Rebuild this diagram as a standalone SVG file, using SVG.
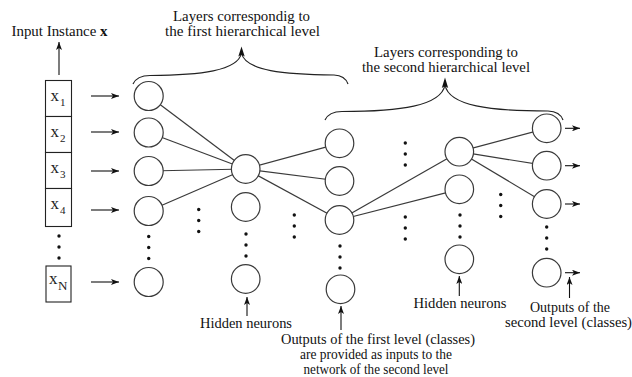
<svg xmlns="http://www.w3.org/2000/svg" xmlns:xlink="http://www.w3.org/1999/xlink" width="632" height="377" viewBox="0 0 632 377">
<style>
.n{fill:#fff;stroke:#3a3a3a;stroke-width:1.2}
.e{stroke:#3a3a3a;stroke-width:1.2;fill:none}
.a{stroke:#111;stroke-width:1.1;fill:none;marker-end:url(#ah)}
.br{stroke:#222;stroke-width:1.2;fill:none}
.d{fill:#111}
.t{font-family:"Liberation Serif","Times New Roman",serif;font-size:14px;fill:#111;text-anchor:middle}
.bx{fill:#fff;stroke:#222;stroke-width:1.1}
.xv{font-family:"Liberation Serif","Times New Roman",serif;font-size:17px;fill:#222}
.sb{font-size:11px}
</style>
<defs>
<marker id="ah" viewBox="0 0 8 6" refX="8" refY="3" markerWidth="8" markerHeight="6" markerUnits="userSpaceOnUse" orient="auto">
<path d="M0,0 L8,3 L0,6 L2,3 z" fill="#111"/>
</marker>
<g id="d3"><circle cx="0" cy="0" r="1.7"/><circle cx="0" cy="11" r="1.7"/><circle cx="0" cy="22" r="1.7"/></g>
</defs>
<rect width="632" height="377" fill="#fff"/>

<g id="connectors">
<g class="e">
<line x1="148.7" y1="96" x2="245.7" y2="169"/>
<line x1="148.7" y1="132.5" x2="245.7" y2="169"/>
<line x1="148.7" y1="171" x2="245.7" y2="169"/>
<line x1="148.7" y1="211" x2="245.7" y2="169"/>
<line x1="245.7" y1="169" x2="339.5" y2="143.3"/>
<line x1="245.7" y1="169" x2="339.5" y2="181"/>
<line x1="245.7" y1="169" x2="339.5" y2="220"/>
<line x1="339.5" y1="220" x2="459.3" y2="151.7"/>
<line x1="339.5" y1="220" x2="459.3" y2="189.3"/>
<line x1="459.3" y1="151.7" x2="546.7" y2="128.3"/>
<line x1="459.3" y1="151.7" x2="546.7" y2="165.7"/>
<line x1="459.3" y1="151.7" x2="546.7" y2="204"/>
</g>
<g class="a">
<line x1="91" y1="96" x2="119" y2="96"/>
<line x1="91" y1="132" x2="119" y2="132"/>
<line x1="91" y1="171" x2="119" y2="171"/>
<line x1="91" y1="210" x2="119" y2="210"/>
<line x1="91" y1="282" x2="119" y2="282"/>
<line x1="565" y1="128.3" x2="580" y2="128.3"/>
<line x1="565" y1="165.7" x2="580" y2="165.7"/>
<line x1="565" y1="204" x2="580" y2="204"/>
<line x1="565" y1="272.7" x2="580" y2="272.7"/>
<line x1="59" y1="75" x2="59" y2="42"/>
<line x1="247" y1="316" x2="247" y2="297"/>
<line x1="341" y1="330" x2="341" y2="306"/>
<line x1="459.3" y1="296" x2="459.3" y2="276"/>
<line x1="569.5" y1="298" x2="569.5" y2="277"/>
</g>
</g>

<g id="braces">
<path class="br" d="M133,84 Q137,75.5 150,75.5 C200,75 238,71 241.5,53 M241.5,53 C245,71 285,74.5 334,75 Q345,75.5 348,84"/>
<path d="M241.5,46.5 L238.3,56.5 L241.5,54.5 L244.7,56.5 z" fill="#111"/>
<path class="br" d="M325,120 Q329,111.5 342,111.5 C400,111.5 441,106 445,85 M445,85 C449,106 490,111 548,111 Q560,111.5 563,120"/>
<path d="M445,77.5 L441.8,88 L445,86 L448.2,88 z" fill="#111"/>
</g>

<g id="input">
<rect class="bx" x="45.5" y="80.5" width="26" height="36"/>
<rect class="bx" x="45.5" y="116.5" width="26" height="36"/>
<rect class="bx" x="45.5" y="152.5" width="26" height="36"/>
<rect class="bx" x="45.5" y="188.5" width="26" height="38"/>
<rect class="bx" x="46" y="266" width="25" height="36"/>
<text class="xv" x="50.5" y="100.5">x<tspan class="sb" x="60" y="105.5">1</tspan></text>
<text class="xv" x="50.5" y="136.5">x<tspan class="sb" x="60" y="141.5">2</tspan></text>
<text class="xv" x="50.5" y="172.5">x<tspan class="sb" x="60" y="177.5">3</tspan></text>
<text class="xv" x="50.5" y="208.5">x<tspan class="sb" x="60" y="213.5">4</tspan></text>
<text class="xv" x="49" y="283.5">x<tspan style="font-size:13px" x="58" y="290">N</tspan></text>
<use xlink:href="#d3" class="d" x="59" y="236"/>
</g>

<g id="layer1">
<circle class="n" cx="148.7" cy="96" r="14.5"/>
<circle class="n" cx="148.7" cy="132.5" r="14.5"/>
<circle class="n" cx="148.7" cy="171" r="14.5"/>
<circle class="n" cx="148.7" cy="211" r="14.5"/>
<circle class="n" cx="148.7" cy="282" r="14.5"/>
<use xlink:href="#d3" class="d" x="148.7" y="236.5"/>
</g>
<use xlink:href="#d3" class="d" x="198.7" y="209.5"/>

<g id="hidden1">
<circle class="n" cx="245.7" cy="169" r="14.3"/>
<circle class="n" cx="245.7" cy="207" r="14.3"/>
<circle class="n" cx="245.7" cy="279" r="14.3"/>
<use xlink:href="#d3" class="d" x="246" y="234"/>
</g>
<use xlink:href="#d3" class="d" x="294.3" y="215"/>

<g id="layer3">
<circle class="n" cx="339.5" cy="143.3" r="14.3"/>
<circle class="n" cx="339.5" cy="181" r="14.3"/>
<circle class="n" cx="339.5" cy="220" r="14.3"/>
<circle class="n" cx="340.5" cy="289.3" r="14.3"/>
<use xlink:href="#d3" class="d" x="340" y="246"/>
</g>
<use xlink:href="#d3" class="d" x="405.3" y="143"/>
<use xlink:href="#d3" class="d" x="405.3" y="217"/>

<g id="hidden2">
<circle class="n" cx="459.3" cy="151.7" r="14.3"/>
<circle class="n" cx="459.3" cy="189.3" r="14.3"/>
<circle class="n" cx="459.3" cy="259.3" r="14.3"/>
<use xlink:href="#d3" class="d" x="460" y="215"/>
</g>
<use xlink:href="#d3" class="d" x="500.7" y="194.5"/>

<g id="output">
<circle class="n" cx="546.7" cy="128.3" r="14.3"/>
<circle class="n" cx="546.7" cy="165.7" r="14.3"/>
<circle class="n" cx="546.7" cy="204" r="14.3"/>
<circle class="n" cx="546.7" cy="272.7" r="14.3"/>
<use xlink:href="#d3" class="d" x="546.7" y="227"/>
</g>

<g id="labels">
<text class="t" x="59.5" y="36" textLength="96" lengthAdjust="spacingAndGlyphs">Input Instance <tspan font-weight="bold">x</tspan></text>
<text class="t" x="241.5" y="21" textLength="137" lengthAdjust="spacingAndGlyphs">Layers correspondig to</text>
<text class="t" x="242.5" y="36" textLength="155" lengthAdjust="spacingAndGlyphs">the first hierarchical level</text>
<text class="t" x="446" y="57" textLength="144" lengthAdjust="spacingAndGlyphs">Layers corresponding to</text>
<text class="t" x="446" y="72" textLength="168" lengthAdjust="spacingAndGlyphs">the second hierarchical level</text>
<text class="t" x="246" y="328" textLength="92" lengthAdjust="spacingAndGlyphs">Hidden neurons</text>
<text class="t" x="460" y="308" textLength="93" lengthAdjust="spacingAndGlyphs">Hidden neurons</text>
<text class="t" x="378" y="344" textLength="194" lengthAdjust="spacingAndGlyphs">Outputs of the first level (classes)</text>
<text class="t" x="376" y="359" textLength="152" lengthAdjust="spacingAndGlyphs">are provided as inputs to the</text>
<text class="t" x="376" y="374" textLength="145" lengthAdjust="spacingAndGlyphs">network of the second level</text>
<text class="t" x="570" y="312" textLength="80" lengthAdjust="spacingAndGlyphs">Outputs of the</text>
<text class="t" x="568.5" y="327" textLength="127" lengthAdjust="spacingAndGlyphs">second level (classes)</text>
</g>
</svg>
